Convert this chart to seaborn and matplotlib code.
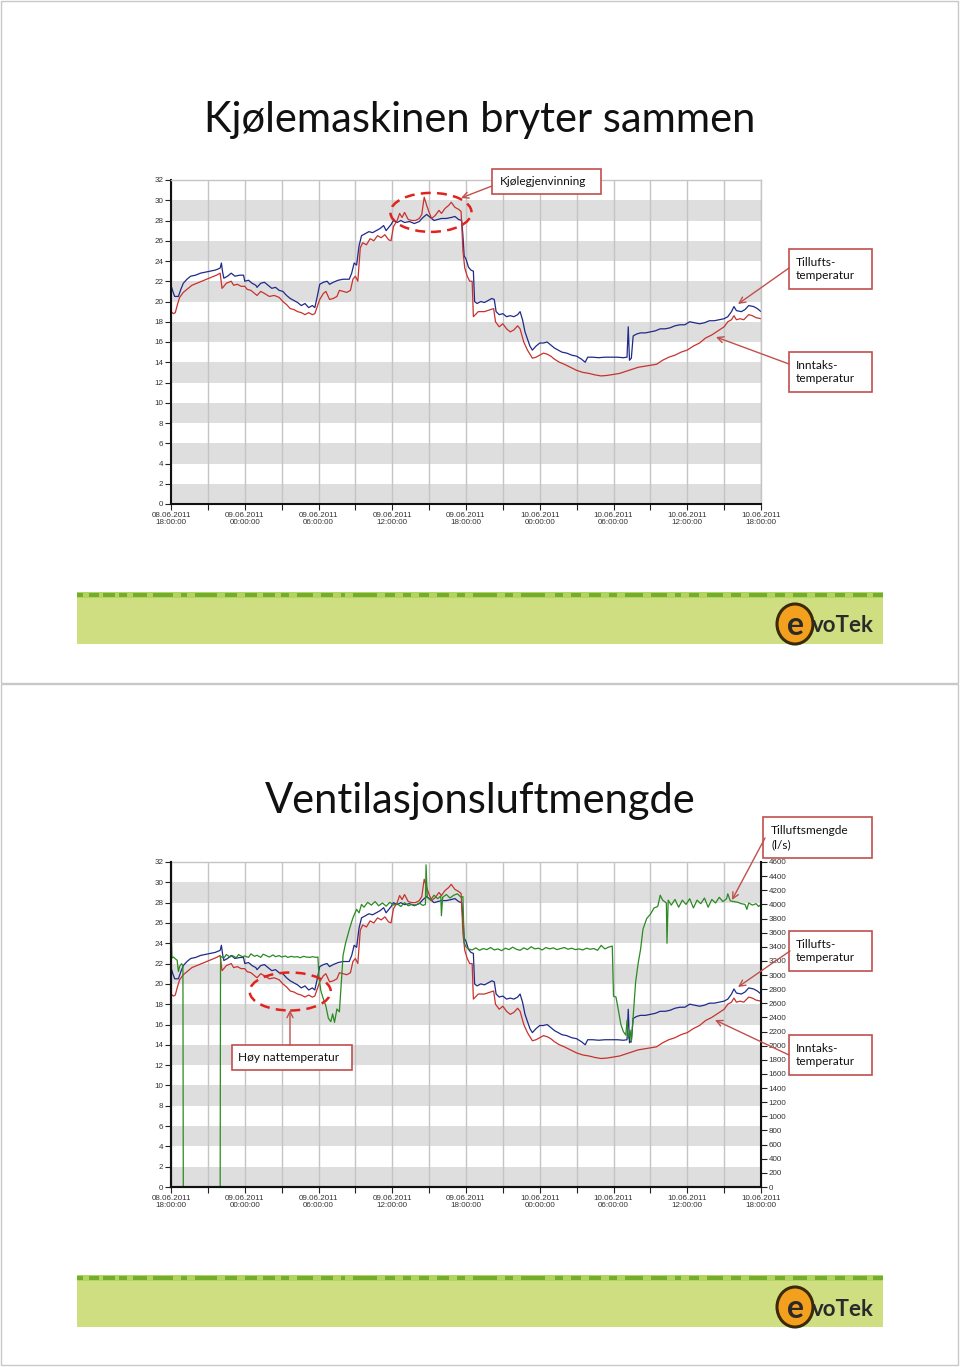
import matplotlib
matplotlib.use("Agg")
import matplotlib.pyplot as plt
import seaborn as sns
import numpy as np
import pandas as pd
from matplotlib.patches import Rectangle, Ellipse, FancyArrowPatch

# ---------------- data ----------------
tick_dates = ["08.06.2011", "09.06.2011", "09.06.2011", "09.06.2011", "09.06.2011",
              "10.06.2011", "10.06.2011", "10.06.2011", "10.06.2011"]
tick_times = ["18:00:00", "00:00:00", "06:00:00", "12:00:00", "18:00:00",
              "00:00:00", "06:00:00", "12:00:00", "18:00:00"]

# hours after 08.06.2011 18:00
t_blue = [0.0, 0.15, 0.3, 0.6, 0.8, 1.0, 1.3, 1.6, 2.0, 2.4, 2.8, 3.2, 3.6, 4.0, 4.1, 4.2, 4.3,
          4.6, 4.9, 5.2, 5.6, 5.9, 6.0, 6.3, 6.6, 6.9, 7.0, 7.3, 7.6, 7.9, 8.2, 8.5, 8.8, 9.1,
          9.4, 9.7, 10.0, 10.3, 10.6, 10.9, 11.2, 11.5, 11.7, 11.9, 12.1, 12.4, 12.7, 12.9,
          13.2, 13.6, 14.0, 14.5, 14.7, 14.9, 15.1, 15.3, 15.5, 15.8, 16.1, 16.4, 16.7, 17.0,
          17.3, 17.5, 17.7, 17.9, 18.1, 18.4, 18.7, 19.0, 19.4, 19.8, 20.2, 20.5, 20.8, 21.1,
          21.4, 21.7, 22.0, 22.4, 22.8, 23.1, 23.4, 23.65, 23.75, 23.85, 24.0, 24.2, 24.4, 24.6,
          24.7, 24.9, 25.2, 25.5, 25.8, 26.1, 26.3, 26.45, 26.7, 27.0, 27.3, 27.6, 27.9, 28.2,
          28.4, 28.6, 28.8, 29.0, 29.2, 29.4, 29.7, 30.0, 30.3, 30.6, 30.9, 31.2, 31.5, 31.8,
          32.2, 32.6, 33.0, 33.4, 33.7, 33.9, 34.3, 34.8, 35.3, 35.8, 36.3, 36.8, 37.1, 37.2,
          37.3, 37.45, 37.6, 37.9, 38.2, 38.6, 39.0, 39.4, 39.8, 40.2, 40.6, 41.0, 41.4, 41.8,
          42.2, 42.6, 43.0, 43.4, 43.8, 44.2, 44.6, 45.0, 45.3, 45.6, 45.8, 46.0, 46.4, 46.7,
          47.0, 47.4, 47.7, 48.0]
blue = [21.6, 21.0, 20.5, 20.5, 21.2, 21.8, 22.2, 22.5, 22.6, 22.8, 22.9, 23.0, 23.1, 23.3, 23.8,
        22.9, 22.3, 22.5, 22.8, 22.5, 22.6, 22.6, 22.0, 22.1, 21.8, 21.6, 21.4, 21.8, 21.9, 21.6,
        21.3, 21.4, 21.1, 21.0, 20.6, 20.3, 20.1, 19.9, 19.6, 19.8, 19.4, 19.6, 19.4, 20.5, 21.7,
        21.9, 22.0, 21.7, 21.9, 22.1, 22.2, 22.2, 22.8, 23.8, 23.6, 25.5, 26.5, 26.7, 26.9, 26.8,
        27.0, 27.2, 27.5, 27.0, 27.3, 27.6, 28.0, 27.8, 28.0, 27.8, 27.9, 27.7, 27.9, 28.3, 28.6,
        28.3, 28.0, 28.1, 28.2, 28.2, 28.3, 28.4, 28.1, 28.0, 26.5, 24.5, 24.2, 23.4, 23.1, 23.0,
        20.0, 19.8, 20.0, 19.9, 20.1, 20.3, 20.2, 19.0, 18.7, 18.8, 18.5, 18.6, 18.5, 18.7, 19.0,
        18.2, 17.0, 16.3, 15.6, 15.2, 15.6, 15.9, 15.9, 16.0, 15.7, 15.4, 15.2, 15.0, 14.9, 14.7,
        14.6, 14.3, 14.0, 14.5, 14.5, 14.45, 14.5, 14.5, 14.5, 14.45, 14.5, 17.5, 14.2, 14.4, 16.6,
        16.8, 16.9, 16.9, 17.0, 17.1, 17.3, 17.3, 17.4, 17.6, 17.7, 17.7, 18.0, 17.9, 17.8, 17.9,
        18.1, 18.1, 18.2, 18.3, 18.5, 19.0, 19.5, 19.1, 19.0, 19.2, 19.6, 19.5, 19.3, 19.0]

t_red = [0.0, 0.2, 0.35, 0.5, 0.7, 1.0, 1.3, 1.7, 2.1, 2.5, 2.9, 3.3, 3.7, 4.0, 4.15, 4.3, 4.5,
         4.9, 5.1, 5.4, 5.7, 6.0, 6.2, 6.5, 6.7, 7.0, 7.3, 7.6, 8.0, 8.4, 8.8, 9.1, 9.4, 9.7,
         10.0, 10.3, 10.6, 10.9, 11.2, 11.5, 11.7, 11.9, 12.1, 12.4, 12.6, 12.9, 13.2, 13.5,
         13.7, 14.0, 14.3, 14.6, 14.8, 15.0, 15.2, 15.4, 15.6, 15.9, 16.2, 16.5, 16.8, 17.1,
         17.4, 17.7, 17.9, 18.1, 18.4, 18.6, 18.8, 19.0, 19.3, 19.6, 19.9, 20.2, 20.4, 20.6,
         20.8, 21.0, 21.2, 21.5, 21.8, 22.0, 22.3, 22.6, 22.8, 23.1, 23.4, 23.6, 23.75, 23.9,
         24.1, 24.3, 24.5, 24.6, 25.0, 25.5, 26.0, 26.25, 26.4, 26.7, 27.0, 27.3, 27.6, 27.9,
         28.2, 28.4, 28.7, 29.0, 29.4, 29.7, 30.0, 30.3, 30.6, 30.9, 31.2, 31.6, 32.0, 32.5,
         33.0, 33.5, 34.0, 34.5, 35.0, 35.5, 36.0, 36.5, 37.0, 37.5, 38.0, 38.5, 39.0, 39.5,
         40.0, 40.5, 41.0, 41.5, 42.0, 42.5, 43.0, 43.5, 44.0, 44.5, 45.0, 45.3, 45.6, 45.8,
         46.0, 46.3, 46.6, 47.0, 47.3, 47.6, 48.0]
red = [19.0, 18.8, 18.9, 19.6, 20.4, 20.9, 21.2, 21.6, 21.8, 22.0, 22.2, 22.4, 22.6, 22.8, 21.3,
       21.5, 21.8, 22.0, 21.6, 21.7, 21.5, 21.5, 21.2, 21.1, 20.9, 20.6, 21.0, 20.8, 20.5, 20.6,
       20.4, 20.0, 19.7, 19.3, 19.2, 19.0, 18.9, 18.7, 18.9, 18.7, 18.8, 19.5, 20.2, 20.8, 21.0,
       20.2, 20.3, 20.5, 21.1, 21.0, 20.9, 21.1, 22.2, 22.5, 22.0, 25.3, 25.8, 25.6, 26.2, 26.0,
       26.5, 26.3, 26.6, 26.1, 26.0, 27.4, 28.0, 28.7, 28.3, 28.8, 28.1, 28.0, 28.0, 28.2, 28.6,
       30.3, 29.5, 28.8, 28.2, 28.5, 29.0, 28.7, 29.2, 29.5, 29.8, 29.3, 29.1, 28.9, 25.0, 23.3,
       22.5, 22.0, 22.0, 18.5, 19.0, 19.0, 19.2, 19.3, 18.0, 17.5, 17.8, 17.3, 17.0, 17.2, 17.6,
       17.3, 16.0, 15.2, 14.4, 14.5, 14.7, 14.9, 14.8, 14.6, 14.3, 14.0, 13.8, 13.5, 13.2, 13.0,
       12.9, 12.75, 12.65, 12.7, 12.8, 12.9, 13.1, 13.3, 13.5, 13.6, 13.7, 13.8, 14.2, 14.5, 14.7,
       15.0, 15.2, 15.6, 15.9, 16.4, 16.7, 17.1, 17.5, 18.0, 18.2, 18.6, 18.2, 18.3, 18.2, 18.7,
       18.6, 18.4, 18.3]

t_green = [0.0, 0.08, 0.2, 0.35, 0.5, 0.6, 0.7, 0.85, 0.97, 1.0, 4.0, 4.03, 4.3, 4.5, 4.8, 5.0,
           5.3, 5.5, 5.8, 6.0, 6.3, 6.5, 6.8, 7.0, 7.3, 7.5, 7.8, 8.0, 8.3, 8.5, 8.8, 9.0, 9.3,
           9.5, 9.8, 10.0, 10.3, 10.5, 10.8, 11.0, 11.3, 11.5, 11.8, 11.95, 12.05, 12.2, 12.4,
           12.6, 12.8, 13.0, 13.15, 13.3, 13.5, 13.7, 13.85, 14.0, 14.2, 14.5, 14.8, 15.1, 15.3,
           15.5, 15.7, 16.0, 16.3, 16.6, 16.9, 17.2, 17.5, 17.8, 18.1, 18.4, 18.7, 19.0, 19.3,
           19.6, 19.9, 20.2, 20.5, 20.7, 20.75, 20.85, 21.1, 21.4, 21.7, 21.95, 22.0, 22.1, 22.4,
           22.7, 23.0, 23.3, 23.6, 23.75, 23.85, 24.0, 24.2, 24.5, 24.8, 25.1, 25.4, 25.7, 26.0,
           26.3, 26.6, 26.9, 27.2, 27.5, 27.8, 28.1, 28.4, 28.7, 29.0, 29.3, 29.6, 29.9, 30.2,
           30.5, 30.8, 31.1, 31.4, 31.7, 32.0, 32.3, 32.6, 32.9, 33.2, 33.5, 33.8, 34.1, 34.4,
           34.7, 35.0, 35.3, 35.6, 35.9, 36.0, 36.2, 36.4, 36.6, 36.8, 37.0, 37.1, 37.2, 37.35,
           37.45, 37.6, 37.8, 38.0, 38.2, 38.4, 38.7, 39.0, 39.3, 39.6, 39.8, 40.0, 40.3, 40.35,
           40.45, 40.7, 41.0, 41.3, 41.6, 41.9, 42.2, 42.5, 42.8, 43.1, 43.4, 43.7, 44.0, 44.3,
           44.6, 44.9, 45.2, 45.3, 45.5, 45.8, 46.1, 46.4, 46.7, 46.85, 47.0, 47.3, 47.6, 47.8, 48.0]
green = [3670, 3240, 3255, 3230, 3210, 3050, 3120, 3160, 3140, 0, 0, 3265, 3240, 3290, 3255, 3275,
         3245, 3290, 3260, 3270, 3250, 3300, 3265, 3280, 3250, 3295, 3270, 3255, 3285, 3260, 3275,
         3255, 3270, 3250, 3265, 3255, 3260, 3245, 3265, 3255, 3250, 3260, 3250, 3255, 2950, 2770,
         2660, 2560, 2390, 2340, 2450, 2330, 2520, 2480, 2880, 3280, 3450, 3640, 3810, 3930, 3880,
         4000, 3960, 4030, 3990, 4040, 3980, 4020, 3975, 4030, 3990, 4010, 3970, 4025, 3980, 4000,
         3990, 4020, 3985, 4000, 4560, 4100, 4060, 4130, 4080, 4120, 3840, 4100, 4140, 4090, 4130,
         4150, 4100, 4110, 3460, 3400, 3370, 3355, 3385, 3350, 3375, 3360, 3390, 3355, 3370, 3345,
         3380, 3360, 3395, 3365, 3350, 3385, 3360, 3400, 3370, 3380, 3355, 3390, 3370, 3385, 3360,
         3375, 3390, 3365, 3380, 3360, 3370, 3355, 3380, 3365, 3375, 3350, 3420, 3370, 3395, 3410,
         2700, 2690, 2500, 2300, 2200, 2150, 2360, 2100, 2220, 2050, 2420, 2900, 3160, 3360, 3650,
         3800, 3860, 3950, 3970, 4130, 4060, 4020, 3450, 4060, 3990, 4070, 3960, 4060, 4000, 4080,
         3950, 4060, 4010, 4090, 3960, 4070, 4020, 4100, 4040, 4080, 4150, 4050, 4040, 4030, 4010,
         4000, 3930, 4020, 3990, 4010, 3970, 4000]

left_ticks = list(range(0, 33, 2))
right_ticks = list(range(0, 4601, 200))

# ---------------- style ----------------
sns.set_theme(style="white")
plt.rcParams['font.family'] = ['Lato', 'DejaVu Sans']

W, H = 960, 1367
fig = plt.figure(figsize=(W / 100, H / 100), dpi=100)
fig.patch.set_facecolor("white")

def fx(x):
    return x / W

def fy(y):
    return 1 - y / H

BLUE = "#1f2a8a"
RED = "#c8322e"
GREEN = "#2b8a22"
BAND = "#dedede"
GRID = "#c4c4c4"
BOXRED = "#c0504d"
ELLRED = "#e0231c"
TICKFONT = dict(family=['Liberation Sans', 'DejaVu Sans'], size=5.8)

df_blue = pd.DataFrame({"t": t_blue, "v": blue})
df_red = pd.DataFrame({"t": t_red, "v": red})
df_green = pd.DataFrame({"t": t_green, "v": green})

xtick_pos = list(range(0, 49, 3))
xtick_lab = []
for p in xtick_pos:
    if p % 6 == 0:
        i = p // 6
        xtick_lab.append(tick_dates[i] + "\n" + tick_times[i])
    else:
        xtick_lab.append("")


def setup_axes(ax):
    ax.set_xlim(0, 48)
    ax.set_ylim(0, 32)
    for k in range(0, 30, 4):
        ax.axhspan(k, k + 2, color=BAND, lw=0, zorder=0)
    ax.set_xticks(xtick_pos)
    ax.set_xticklabels(xtick_lab, fontdict=TICKFONT, color="#333333", linespacing=1.15)
    ax.set_yticks(left_ticks)
    ax.set_yticklabels([str(v) for v in left_ticks], fontdict=TICKFONT, color="#333333")
    ax.grid(axis="x", color=GRID, lw=1.0, zorder=0.5)
    ax.grid(axis="y", visible=False)
    ax.set_axisbelow(True)
    ax.tick_params(axis="both", direction="out", length=4, width=0.8, color="#222222", pad=1.5,
                   bottom=True, left=True)
    for s in ["left", "bottom"]:
        ax.spines[s].set_color("#111111")
        ax.spines[s].set_linewidth(1.5)
    for s in ["top", "right"]:
        ax.spines[s].set_color(GRID)
        ax.spines[s].set_linewidth(1.0)
    ax.set_xlabel("")
    ax.set_ylabel("")


# ---------------- top chart ----------------
ax1 = fig.add_axes([fx(171), fy(504), 590 / W, 324 / H])
ax1.set_facecolor("white")
sns.lineplot(data=df_blue, x="t", y="v", ax=ax1, color=BLUE, lw=0.9, estimator=None, sort=False)
sns.lineplot(data=df_red, x="t", y="v", ax=ax1, color=RED, lw=0.9, estimator=None, sort=False)
setup_axes(ax1)
ax1.add_patch(Ellipse((21.15, 28.8), 6.6, 3.85, fill=False, ec=ELLRED, lw=1.8,
                      ls=(0, (4, 2.5)), zorder=6, clip_on=False))

# ---------------- bottom chart ----------------
ax2 = fig.add_axes([fx(171), fy(1187), 590 / W, 325 / H])
ax2.set_facecolor("white")
sns.lineplot(data=df_blue, x="t", y="v", ax=ax2, color=BLUE, lw=0.9, estimator=None, sort=False)
sns.lineplot(data=df_red, x="t", y="v", ax=ax2, color=RED, lw=0.9, estimator=None, sort=False)
setup_axes(ax2)
ax2r = ax2.twinx()
sns.lineplot(data=df_green, x="t", y="v", ax=ax2r, color=GREEN, lw=0.9, estimator=None, sort=False)
ax2r.set_ylim(0, 4600)
ax2r.set_xlim(0, 48)
ax2r.set_yticks(right_ticks)
ax2r.set_yticklabels([str(v) for v in right_ticks], fontdict=TICKFONT, color="#333333")
ax2r.tick_params(axis="y", direction="out", length=4, width=0.8, color="#222222", pad=1.5, right=True)
ax2r.set_ylabel("")
ax2r.grid(False)
ax2r.spines["top"].set_visible(False)
for s in ["left", "bottom", "right"]:
    ax2r.spines[s].set_color("#111111")
    ax2r.spines[s].set_linewidth(1.5)
ax2r.add_patch(Ellipse((9.7, 19.25 * 4600 / 32), 6.6, 3.74 * 4600 / 32, fill=False, ec=ELLRED,
                       lw=1.8, ls=(0, (4, 2.5)), zorder=6, clip_on=False))

# ---------------- titles ----------------
fig.text(0.5, fy(132), "Kjølemaskinen bryter sammen", ha="center", va="baseline",
         fontsize=30, color="#111111")
fig.text(0.5, fy(813), "Ventilasjonsluftmengde", ha="center", va="baseline",
         fontsize=30, color="#111111")

# ---------------- annotations ----------------
def box(x0, y0, x1, y1, text, tx):
    fig.add_artist(Rectangle((fx(x0), fy(y1)), (x1 - x0) / W, (y1 - y0) / H,
                             transform=fig.transFigure, fc="white", ec=BOXRED, lw=1.2, zorder=4))
    fig.text(fx(tx), fy((y0 + y1) / 2), text, ha="left", va="center", fontsize=8.6,
             color="#111111", linespacing=1.3, zorder=5)

def arrow(x0, y0, x1, y1):
    fig.add_artist(FancyArrowPatch((fx(x0), fy(y0)), (fx(x1), fy(y1)), transform=fig.transFigure,
                                   arrowstyle="->", mutation_scale=11, color=BOXRED, lw=1.0,
                                   shrinkA=0, shrinkB=0, zorder=5))

box(492, 169, 601, 194, "Kjølegjenvinning", 500)
arrow(492, 186, 461, 198)
box(789, 249, 872, 289, "Tillufts-\ntemperatur", 796)
arrow(789, 268, 738, 304)
box(789, 352, 872, 392, "Inntaks-\ntemperatur", 796)
arrow(789, 364, 716, 337)

box(763, 817, 872, 858, "Tilluftsmengde\n(l/s)", 771)
arrow(765, 838, 732, 900)
box(789, 931, 872, 971, "Tillufts-\ntemperatur", 796)
arrow(790, 951, 738, 987)
box(789, 1035, 872, 1075, "Inntaks-\ntemperatur", 796)
arrow(789, 1055, 715, 1020)
box(232, 1045, 352, 1070, "Høy nattemperatur", 238)
arrow(290, 1045, 290, 1010)

# ---------------- footers ----------------
dash_segments = [(0, 6), (12, 22), (26, 38), (42, 50), (56, 70), (76, 96), (104, 110), (118, 140),
                 (148, 160), (168, 180), (186, 198), (204, 212), (220, 236), (244, 256), (264, 268),
                 (276, 300), (308, 318), (326, 334), (342, 352), (360, 372), (380, 388), (396, 420),
                 (428, 436), (444, 468), (478, 486), (494, 504), (512, 524), (532, 540), (548, 566),
                 (574, 590), (598, 604), (612, 622), (630, 646), (654, 664), (672, 690), (698, 708),
                 (716, 730), (738, 750), (758, 768), (776, 790), (796, 806)]

def footer(ytop):
    x0, x1 = 77, 883
    fig.add_artist(Rectangle((fx(x0), fy(ytop + 52)), (x1 - x0) / W, 46 / H, transform=fig.transFigure,
                             fc="#d0de82", ec="none", zorder=1))
    fig.add_artist(Rectangle((fx(x0), fy(ytop + 6)), (x1 - x0) / W, 6 / H, transform=fig.transFigure,
                             fc="#b2d462", ec="none", zorder=1))
    for a, b in dash_segments:
        fig.add_artist(Rectangle((fx(x0 + a), fy(ytop + 5)), (b - a) / W, 4 / H,
                                 transform=fig.transFigure, fc="#74ad2c", ec="none", zorder=2))
    # logo
    fig.add_artist(Ellipse((fx(795), fy(ytop + 32)), 36 / W, 40 / H, transform=fig.transFigure,
                           fc="#f2a01e", ec="#3a2a08", lw=2.2, zorder=3))
    fig.text(fx(795), fy(ytop + 34), "e", ha="center", va="center", fontsize=23,
             fontweight="bold", color="#2a2a2a", zorder=4)
    fig.text(fx(812), fy(ytop + 34), "voTek", ha="left", va="center", fontsize=16,
             fontweight="bold", color="#2a2a2a", zorder=4)

footer(592)
footer(1275)

# slide borders
for (y0, y1) in [(1, 683), (684, 1365)]:
    fig.add_artist(Rectangle((fx(1), fy(y1)), 957 / W, (y1 - y0) / H, transform=fig.transFigure,
                             fill=False, ec="#c8c8c8", lw=1.0, zorder=0))

fig.savefig("out.png", dpi=100, facecolor="white")
